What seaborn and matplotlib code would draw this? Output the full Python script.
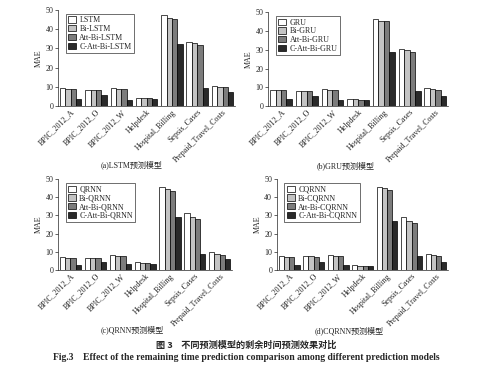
import pandas as pd
import matplotlib.pyplot as plt
import seaborn as sns

sns.set_style('ticks')
plt.rcParams['font.family'] = ['Liberation Serif', 'Noto Sans CJK SC']
plt.rcParams['font.size'] = 5.8

# ── Data ──────────────────────────────────────────────────────────────────────
datasets = ['BPIC_2012_A', 'BPIC_2012_O', 'BPIC_2012_W', 'Helpdesk',
            'Hospital_Billing', 'Sepsis_Cases', 'Prepaid_Travel_Costs']

lstm_models = ['LSTM', 'Bi-LSTM', 'Att-Bi-LSTM', 'C-Att-Bi-LSTM']
lstm_base = [9.2, 8.6, 9.3, 4.3, 47.2, 33.5, 10.4]
lstm_bi = [9.0, 8.5, 9.0, 4.1, 46.0, 33.0, 10.2]
lstm_att = [8.7, 8.2, 8.7, 4.0, 45.5, 31.7, 10.0]
lstm_catt = [3.8, 5.6, 3.4, 3.7, 32.2, 9.6, 7.3]

gru_models = ['GRU', 'Bi-GRU', 'Att-Bi-GRU', 'C-Att-Bi-GRU']
gru_base = [8.5, 8.2, 8.9, 3.7, 46.3, 30.6, 9.4]
gru_bi = [8.4, 8.0, 8.4, 3.6, 45.5, 29.7, 8.9]
gru_att = [8.4, 8.0, 8.4, 3.5, 45.0, 28.6, 8.8]
gru_catt = [3.6, 5.3, 3.0, 3.2, 28.8, 8.2, 5.3]

qrnn_models = ['QRNN', 'Bi-QRNN', 'Att-Bi-QRNN', 'C-Att-Bi-QRNN']
qrnn_base = [7.2, 6.8, 8.1, 4.3, 45.4, 31.6, 9.7]
qrnn_bi = [6.8, 6.7, 7.7, 3.9, 44.3, 28.9, 8.6]
qrnn_att = [6.4, 6.5, 7.5, 3.7, 43.2, 27.9, 8.3]
qrnn_catt = [2.8, 4.2, 3.3, 3.6, 29.4, 8.8, 6.1]

cqrnn_models = ['CQRNN', 'Bi-CQRNN', 'Att-Bi-CQRNN', 'C-Att-Bi-CQRNN']
cqrnn_base = [7.5, 7.9, 8.4, 2.6, 45.4, 29.3, 9.0]
cqrnn_bi = [7.2, 7.8, 8.0, 2.5, 44.9, 26.7, 8.2]
cqrnn_att = [7.0, 7.4, 7.8, 2.4, 44.0, 25.6, 7.9]
cqrnn_catt = [2.8, 4.4, 3.0, 2.0, 27.1, 7.7, 4.6]

panel_titles = ['(a)LSTM预测模型', '(b)GRU预测模型',
                '(c)QRNN预测模型', '(d)CQRNN预测模型']
GRAYS = ['#ffffff', '#c4c4c4', '#7c7c7c', '#2a2a2a']

panels = [
    (lstm_models, [lstm_base, lstm_bi, lstm_att, lstm_catt]),
    (gru_models, [gru_base, gru_bi, gru_att, gru_catt]),
    (qrnn_models, [qrnn_base, qrnn_bi, qrnn_att, qrnn_catt]),
    (cqrnn_models, [cqrnn_base, cqrnn_bi, cqrnn_att, cqrnn_catt]),
]

# axes rectangles [left, bottom, width, height] in figure fraction
rects = [[0.118, 0.710, 0.360, 0.263],
         [0.545, 0.710, 0.366, 0.257],
         [0.118, 0.262, 0.354, 0.249],
         [0.563, 0.262, 0.348, 0.249]]
title_pos = [(0.268, 0.549), (0.703, 0.546), (0.268, 0.098), (0.709, 0.095)]

fig = plt.figure(figsize=(4.92, 3.66), dpi=100)
fig.patch.set_facecolor('white')

for (models, series), rect, title, tpos in zip(panels, rects, panel_titles, title_pos):
    ax = fig.add_axes(rect)
    df = pd.DataFrame({
        'Dataset': datasets * len(models),
        'Model': [m for m in models for _ in datasets],
        'MAE': [v for s in series for v in s],
    })
    sns.barplot(data=df, x='Dataset', y='MAE', hue='Model', hue_order=models,
                palette=GRAYS, edgecolor='black', linewidth=0.5,
                width=0.85, ax=ax)
    ax.set_ylim(0, 50)
    ax.set_yticks(range(0, 51, 10))
    ax.set_xlim(-0.5, len(datasets) - 0.5)
    ax.set_xlabel('')
    ax.set_ylabel('MAE', fontsize=5.8, labelpad=2)
    ax.tick_params(axis='both', length=2, width=0.5, pad=1.5, labelsize=5.8)
    ax.tick_params(axis='x', length=0)
    ax.set_xticks(range(len(datasets)))
    ax.set_xticklabels(datasets, rotation=45, ha='right', rotation_mode='anchor')
    for sp in ['top', 'right']:
        ax.spines[sp].set_visible(False)
    for sp in ['left', 'bottom']:
        ax.spines[sp].set_linewidth(0.5)
    leg = ax.legend(loc='upper left', bbox_to_anchor=(0.02, 1.0), fontsize=5.8,
                    frameon=True, fancybox=False, edgecolor='black',
                    handlelength=1.0, handleheight=0.8, handletextpad=0.4,
                    borderpad=0.3, labelspacing=0.1)
    leg.get_frame().set_linewidth(0.5)
    fig.text(tpos[0], tpos[1], title, ha='center', va='center', fontsize=5.8)

fig.text(0.5, 0.057, '图 3    不同预测模型的剩余时间预测效果对比', ha='center',
         va='center', fontsize=6.6, fontweight='bold',
         family=['Noto Sans CJK SC', 'Liberation Serif'])
fig.text(0.5, 0.022, 'Fig.3    Effect of the remaining time prediction comparison among different prediction models',
         ha='center', va='center', fontsize=6.9, fontweight='bold')

plt.savefig('out.png', dpi=100, facecolor='white')
